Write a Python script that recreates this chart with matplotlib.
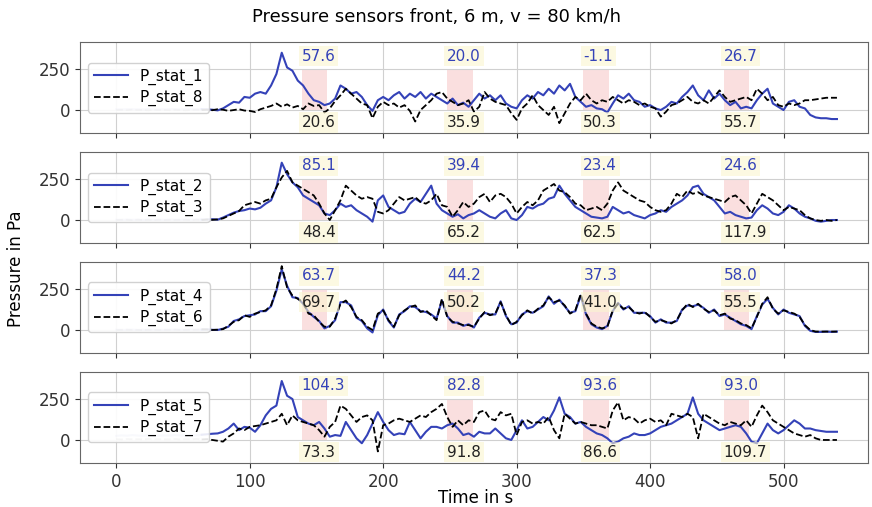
import numpy as np
import matplotlib.pyplot as plt

# time axis in s, 4 s steps
t = np.arange(0, 541, 4)

p_stat_1 = [5, 3, 6, 4, 5, 3, 6, 4, 5, 4,
            6, 5, 4, 6, 5, 3, 5, 4, 2, -2,
            10, 30, 50, 45, 80, 75, 100, 110, 100, 150,
            220, 350, 260, 240, 180, 150, 100, 60, 50, 30,
            40, 70, 150, 130, 100, 110, 80, 30, -5, 60,
            80, 60, 90, 110, 70, 100, 80, 110, 70, 100,
            80, 60, 40, 70, 30, 45, 20, 60, 100, 70,
            90, 60, 90, 40, 20, 10, 60, 90, 70, 110,
            90, 130, 100, 150, 120, 160, 80, 50, 20, 30,
            10, 5, -15, 40, 90, 70, 100, 60, 50, 20,
            30, 10, 0, 20, 50, 40, 80, 110, 150, 90,
            60, 120, 70, 100, 60, 30, 50, 10, 20, 10,
            60, 100, 130, 40, 20, 0, 50, 60, 20, 10,
            -30, -45, -50, -50, -55, -55]
p_stat_8 = [0, 2, -1, 3, 0, 1, -2, 2, 0, 1,
            -1, 2, 0, -2, 1, 3, 0, 2, -1, 5,
            2, -5, 0, 5, -3, -5, -12, 5, 15, 25,
            40, 20, 35, 15, 25, 5, 40, 25, 30, -15,
            10, 55, 90, 130, 100, 70, 40, 30, -50, 20,
            50, 30, 40, 15, 30, -5, -70, 0, 30, 60,
            100, 110, 70, 50, 30, 40, 60, -10, 20, 110,
            70, 50, 40, 30, -20, -60, 10, 40, 90, 30,
            0, -30, 20, -80, -20, 40, 80, 60, 100, 60,
            40, 60, 50, 80, 60, 40, 60, 50, 30, 40,
            20, 10, -40, -10, 30, 40, 60, 80, 50, 40,
            60, 40, 80, 120, 80, 50, 60, 70, 80, 60,
            130, 100, 60, 80, 30, 20, 40, 30, 40, 60,
            60, 65, 70, 75, 75, 75]
p_stat_2 = [2, 0, 3, 1, 2, 0, 3, 1, 2, 1,
            3, 2, 1, 3, 2, 4, 2, 3, 5, 2,
            15, 30, 45, 55, 60, 70, 65, 75, 100, 120,
            200, 350, 280, 230, 200, 150, 130, 110, 90, 40,
            30, 60, 100, 80, 90, 60, 40, 20, -10, 120,
            150, 80, 60, 40, 50, 100, 130, 110, 160, 210,
            100, 60, 40, 20, 35, 10, 30, 40, 60, 40,
            20, 10, 40, 60, 10, 0, 30, 80, 70, 90,
            100, 130, 140, 210, 160, 120, 80, 60, 40, 20,
            15, 10, 20, 80, 60, 40, 50, 30, 20, 10,
            30, 40, 60, 50, 80, 100, 120, 150, 200, 210,
            160, 140, 120, 80, 40, 50, 30, 20, 10, 15,
            60, 90, 70, 40, 30, 50, 90, 70, 40, 20,
            10, -5, -10, -5, 0, 0]
p_stat_3 = [0, 2, 1, -1, 2, 0, 1, -1, 2, 0,
            1, 0, 2, 1, -1, 2, 0, 3, 1, 4,
            10, 25, 40, 55, 90, 100, 110, 100, 120, 130,
            200, 260, 300, 230, 210, 190, 170, 150, 100, 40,
            0, 60, 120, 210, 180, 150, 130, 140, 130, 50,
            40, 60, 100, 140, 120, 130, 140, 110, 100, 120,
            160, 90, 80, 20, 60, 110, 80, 100, 140, 160,
            110, 150, 160, 140, 100, 40, 80, 110, 90, 120,
            180, 200, 220, 180, 170, 140, 100, 90, 60, 70,
            80, 60, 100, 180, 230, 180, 160, 140, 120, 110,
            80, 60, 50, 60, 100, 160, 140, 180, 160, 170,
            150, 140, 130, 120, 110, 140, 150, 120, 90, 40,
            100, 160, 140, 120, 90, 60, 80, 70, 60, 30,
            10, 0, -5, 0, -5, 0]
p_stat_4 = [2, 0, 1, 2, 0, 1, 0, 2, 1, 0,
            2, 1, 2, 0, 3, 1, 2, 4, 1, 0,
            8, 20, 55, 65, 85, 90, 95, 115, 115, 145,
            240, 370, 270, 200, 195, 160, 110, 80, 55, 10,
            25, 60, 170, 170, 150, 75, 55, 10, -15, 90,
            125, 55, 15, 95, 115, 145, 140, 115, 110, 95,
            70, 180, 85, 45, 45, 25, 35, 15, 75, 105,
            95, 95, 175, 85, 35, 45, 95, 115, 105, 125,
            145, 205, 160, 185, 145, 105, 115, 210, 95, 35,
            15, 5, 25, 115, 165, 125, 145, 105, 105, 105,
            85, 45, 65, 45, 45, 55, 125, 150, 145, 155,
            135, 105, 125, 85, 95, 75, 55, 35, 25, 5,
            85, 155, 190, 135, 95, 125, 105, 95, 85, 25,
            -5, -12, -12, -10, -12, -10]
p_stat_6 = [0, 1, 2, 0, 1, -1, 2, 1, 0, 2,
            1, 3, 0, 2, 1, 2, 4, 3, 0, 2,
            5, 25, 50, 60, 90, 80, 100, 110, 120, 150,
            250, 390, 260, 210, 190, 170, 100, 90, 50, 20,
            20, 70, 160, 180, 140, 80, 60, 20, 0, 100,
            120, 60, 20, 90, 120, 140, 150, 110, 120, 90,
            60, 190, 80, 50, 40, 30, 30, 20, 70, 110,
            90, 100, 170, 90, 30, 50, 90, 120, 100, 130,
            150, 200, 170, 180, 150, 100, 120, 220, 100, 40,
            20, 10, 20, 120, 160, 130, 140, 110, 100, 110,
            80, 50, 60, 50, 40, 60, 120, 160, 140, 160,
            130, 110, 120, 90, 100, 70, 60, 40, 30, 10,
            80, 160, 200, 130, 100, 120, 110, 100, 80, 30,
            0, -10, -10, -10, -10, -10]
p_stat_5 = [25, 28, 26, 30, 27, 25, 29, 27, 26, 28,
            27, 30, 28, 26, 30, 28, 32, 35, 38, 40,
            50, 70, 100, 60, 80, 75, 50, 90, 150, 190,
            210, 360, 270, 250, 140, 120, 100, 90, 110, 70,
            20, 30, 25, 110, 60, 10, -20, 30, 100, 170,
            110, 60, 30, 40, 35, 110, 60, 10, 50, 80,
            80, 70, 90, 100, 70, 30, 40, 20, 50, 40,
            40, 70, 40, 10, 0, 60, 120, 70, 80, 110,
            140, 120, 180, 260, 160, 140, 100, 110, 80, 60,
            40, 30, 10, -20, -10, 10, 20, 40, 30, 30,
            40, 60, 80, 90, 100, 120, 140, 160, 260, 160,
            120, 100, 80, 60, 70, 80, 90, 80, 40, -10,
            -20, 40, 100, 60, 40, 60, 90, 120, 100, 70,
            70, 60, 55, 50, 50, 50]
p_stat_7 = [5, 3, 6, 4, 5, 3, 6, 4, 5, 4,
            4, 6, 3, 5, 4, 6, 3, 5, 0, -5,
            -10, 20, 40, 70, 60, 80, 85, 90, 100, 110,
            120, 160, 90, 150, 120, 110, 100, 90, 60, 20,
            80, 110, 210, 190, 150, 110, 140, 150, 120, -70,
            90, 100, 120, 130, 120, 110, 130, 150, 140, 170,
            190, 220, 140, 80, 120, 90, 120, 110, 170, 180,
            130, 120, 170, 150, 160, 30, 110, 120, 100, 110,
            100, 140, 60, 10, 160, 130, 100, 110, 100, 90,
            90, 80, 70, 180, 230, 120, 140, 130, 100, 120,
            130, 110, 120, 90, 160, 150, 140, 160, 140, 10,
            160, 140, 120, 100, 90, 110, 100, 90, 120, 80,
            150, 210, 170, 120, 100, 80, 60, 40, 30, 20,
            30, 10, 0, 0, 0, 0]

pairs = [("P_stat_1", p_stat_1, "P_stat_8", p_stat_8),
         ("P_stat_2", p_stat_2, "P_stat_3", p_stat_3),
         ("P_stat_4", p_stat_4, "P_stat_6", p_stat_6),
         ("P_stat_5", p_stat_5, "P_stat_7", p_stat_7)]

# evaluation windows and the values printed on them
win_start = [139, 248, 350, 455]
win_len = 19
blue_vals = [[57.6, 20.0, -1.1, 26.7],
             [85.1, 39.4, 23.4, 24.6],
             [63.7, 44.2, 37.3, 58.0],
             [104.3, 82.8, 93.6, 93.0]]
black_vals = [[20.6, 35.9, 50.3, 55.7],
              [48.4, 65.2, 62.5, 117.9],
              [69.7, 50.2, 41.0, 55.5],
              [73.3, 91.8, 86.6, 109.7]]
black_label_y = [-75, -75, 170, -75]

blue = "#3442b8"
box = dict(facecolor="#fbf6d0", edgecolor="none", alpha=0.6, pad=2)

fig, axes = plt.subplots(4, 1, figsize=(8.72, 5.07), dpi=100, sharex=True)
fig.subplots_adjust(left=0.092, right=0.995, top=0.917, bottom=0.087, hspace=0.21)

t0 = 64
early = t <= t0
late = t >= t0
for i, ax in enumerate(axes):
    n1, s1, n2, s2 = pairs[i]
    s1 = np.array(s1)
    s2 = np.array(s2)
    ax.plot(t[early], s1[early], color=blue, lw=1.5, alpha=0.3)
    ax.plot(t[early], s2[early], color="black", lw=1.3, ls="--", alpha=0.3)
    ax.plot(t[late], s1[late], color=blue, lw=1.5, label=n1)
    ax.plot(t[late], s2[late], color="black", lw=1.3, ls="--", label=n2)
    for j, ws in enumerate(win_start):
        ax.fill_between([ws, ws + win_len], 0, 250, color="#f7c6c6", alpha=0.55, lw=0)
        ax.text(ws, 330, f"{blue_vals[i][j]:.1f}", color=blue, fontsize=11,
                ha="left", va="center", bbox=box)
        ax.text(ws, black_label_y[i], f"{black_vals[i][j]:.1f}", color="#222222",
                fontsize=11, ha="left", va="center", bbox=box)
    ax.set_ylim(-140, 415)
    ax.set_yticks([0, 250])
    ax.grid(True, color="#d0d0d0", lw=0.8)
    ax.tick_params(labelsize=12, colors="#333333")
    for sp in ax.spines.values():
        sp.set_color("#666666")
    ax.legend(loc="center left", fontsize=11, handlelength=2.2,
              borderpad=0.4, labelspacing=0.35, framealpha=0.9)

axes[-1].set_xlim(-27, 563)
axes[-1].set_xticks([0, 100, 200, 300, 400, 500])
fig.suptitle("Pressure sensors front, 6 m, v = 80 km/h", fontsize=13, y=0.985)
fig.text(0.545, 0.0, "Time in s", ha="center", va="bottom", fontsize=12)
fig.text(0.008, 0.47, "Pressure in Pa", rotation=90, ha="left", va="center", fontsize=12)

fig.savefig("out.png", dpi=100)
